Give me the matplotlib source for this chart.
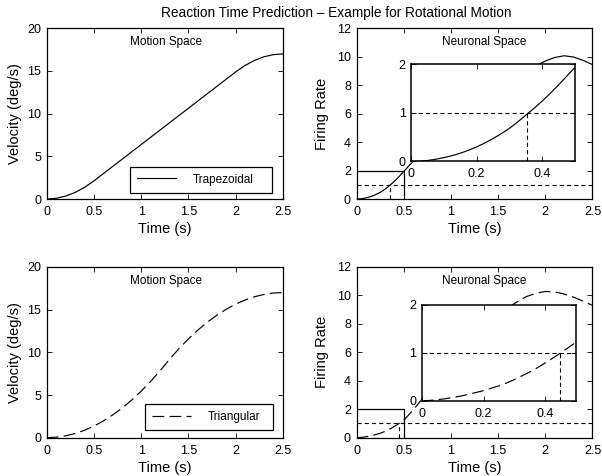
import matplotlib
matplotlib.use("Agg")
import matplotlib.pyplot as plt

plt.rcParams['font.family'] = ['Liberation Sans', 'DejaVu Sans']
plt.rcParams['lines.scale_dashes'] = False

# ---------------- data ----------------
t_motion = [0.0, 0.1, 0.2, 0.3, 0.4, 0.5, 0.6, 0.7, 0.8, 0.9, 1.0, 1.1, 1.2, 1.3,
            1.4, 1.5, 1.6, 1.7, 1.8, 1.9, 2.0, 2.1, 2.2, 2.3, 2.4, 2.5]
vel_trap = [0.0, 0.085, 0.34, 0.765, 1.36, 2.125, 2.975, 3.825, 4.675, 5.525, 6.375,
            7.225, 8.075, 8.925, 9.775, 10.625, 11.475, 12.325, 13.175, 14.025,
            14.875, 15.64, 16.235, 16.66, 16.915, 17.0]
vel_tri = [0.0, 0.054, 0.218, 0.49, 0.87, 1.36, 1.96, 2.67, 3.48, 4.41, 5.44, 6.58,
           7.83, 9.17, 10.42, 11.56, 12.59, 13.52, 14.33, 15.04, 15.64, 16.13,
           16.51, 16.78, 16.95, 17.0]

t_neuro = [0.0, 0.025, 0.05, 0.075, 0.1, 0.125, 0.15, 0.175, 0.2, 0.225, 0.25,
           0.275, 0.3, 0.325, 0.35, 0.375, 0.4, 0.425, 0.45, 0.475, 0.5, 0.55, 0.6,
           0.65, 0.7, 0.8, 0.9, 1.0, 1.1, 1.2, 1.3, 1.4, 1.5, 1.6, 1.7, 1.8, 1.9,
           2.0, 2.1, 2.2, 2.3, 2.4, 2.5]
rate_trap = [0.0, 0.005, 0.02, 0.045, 0.08, 0.12, 0.17, 0.23, 0.30, 0.38, 0.47,
             0.57, 0.68, 0.81, 0.95, 1.09, 1.24, 1.40, 1.57, 1.75, 1.93, 2.3,
             2.65, 3.0, 3.35, 4.0, 4.65, 5.25, 5.8, 6.35, 6.85, 7.3, 7.75, 8.15,
             8.55, 8.95, 9.35, 9.7, 9.95, 10.07, 9.98, 9.75, 9.45]
rate_tri = [0.0, 0.005, 0.02, 0.04, 0.065, 0.095, 0.13, 0.17, 0.21, 0.26, 0.31,
            0.37, 0.44, 0.52, 0.6, 0.69, 0.79, 0.89, 1.0, 1.11, 1.22, 1.58,
            1.95, 2.35, 2.75, 3.5, 4.25, 5.0, 5.75, 6.45, 7.15, 7.8, 8.55, 9.1,
            9.55, 9.92, 10.15, 10.28, 10.25, 10.1, 9.88, 9.6, 9.3]

threshold = 1.0
rt_trap = 0.355
rt_tri = 0.447
zoom_t = 0.5
zoom_r = 2.0

labels = ['Trapezoidal', 'Triangular']
title = 'Reaction Time Prediction \u2013 Example for Rotational Motion'

# ---------------- style ----------------
TICK_FS = 9
LABEL_FS = 10.5
ANN_FS = 8.5
LW = 0.85
DASH_LONG = (8.5, 3.8)
DASH_SHORT = (3.0, 2.2)


def style(ax):
    ax.tick_params(direction='in', top=True, right=True, length=3.5, width=0.6,
                   labelsize=TICK_FS)
    ax.tick_params(axis='x', pad=5)
    ax.tick_params(axis='y', pad=4)
    for s in ax.spines.values():
        s.set_linewidth(0.9)


fig = plt.figure(figsize=(6.02, 4.76), dpi=100)

W = 0.392
H = 0.3586
pos = {
    (0, 0): [0.0776, 0.5819, W, H],
    (0, 1): [0.5922, 0.5819, W, H],
    (1, 0): [0.0776, 0.0805, W, H],
    (1, 1): [0.5922, 0.0805, W, H],
}

series = [
    (vel_trap, rate_trap, rt_trap, None, (0.353, 0.037, 0.600, 0.1),
     [0.58, 2.64, 1.73, 6.82]),
    (vel_tri, rate_tri, rt_tri, DASH_LONG, (0.4165, 0.045, 0.542, 0.1),
     [0.69, 2.60, 1.64, 6.76]),
]

for row, (vel, rate, rt, dash, leg_box, inset_rect) in enumerate(series):
    # motion space
    ax = fig.add_axes(pos[(row, 0)])
    ln, = ax.plot(t_motion, vel, color='black', lw=LW, label=labels[row])
    if dash:
        ln.set_dashes(dash)
    ax.set_xlim(0, 2.5)
    ax.set_ylim(0, 20)
    ax.set_xticks([0, 0.5, 1, 1.5, 2, 2.5])
    ax.set_xticklabels(['0', '0.5', '1', '1.5', '2', '2.5'])
    ax.set_yticks([0, 5, 10, 15, 20])
    ax.set_xlabel('Time (s)', fontsize=LABEL_FS, labelpad=3)
    ax.set_ylabel('Velocity (deg/s)', fontsize=LABEL_FS, labelpad=4)
    ax.text(0.504, 0.92, 'Motion Space', transform=ax.transAxes, ha='center',
            va='center', fontsize=ANN_FS)
    style(ax)
    leg = ax.legend(loc='lower left', bbox_to_anchor=leg_box, mode='expand',
                    borderaxespad=0, fontsize=ANN_FS, frameon=True, fancybox=False,
                    framealpha=1, edgecolor='black', handlelength=3.3,
                    handletextpad=1.4, borderpad=0.6)
    leg.get_frame().set_linewidth(0.9)

    # neuronal space
    ax2 = fig.add_axes(pos[(row, 1)])
    ln2, = ax2.plot(t_neuro, rate, color='black', lw=LW)
    if dash:
        ln2.set_dashes(dash)
    ax2.axhline(threshold, color='black', lw=0.8, dashes=DASH_SHORT)
    ax2.plot([rt, rt], [0, threshold], color='black', lw=0.8, dashes=DASH_SHORT)
    ax2.plot([0, zoom_t, zoom_t], [zoom_r, zoom_r, 0], color='black', lw=0.9)
    ax2.set_xlim(0, 2.5)
    ax2.set_ylim(0, 12)
    ax2.set_xticks([0, 0.5, 1, 1.5, 2, 2.5])
    ax2.set_xticklabels(['0', '0.5', '1', '1.5', '2', '2.5'])
    ax2.set_yticks([0, 2, 4, 6, 8, 10, 12])
    ax2.set_xlabel('Time (s)', fontsize=LABEL_FS, labelpad=3)
    ax2.set_ylabel('Firing Rate', fontsize=LABEL_FS, labelpad=6)
    ax2.text(0.541, 0.92, 'Neuronal Space', transform=ax2.transAxes, ha='center',
             va='center', fontsize=ANN_FS)
    style(ax2)

    ins = ax2.inset_axes(inset_rect, transform=ax2.transData)
    ins.set_facecolor('white')
    ln3, = ins.plot(t_neuro, rate, color='black', lw=LW)
    if dash:
        ln3.set_dashes(dash)
    ins.axhline(threshold, color='black', lw=0.8, dashes=DASH_SHORT)
    ins.plot([rt, rt], [0, threshold], color='black', lw=0.8, dashes=DASH_SHORT)
    ins.set_xlim(0, zoom_t)
    ins.set_ylim(0, zoom_r)
    ins.set_xticks([0, 0.2, 0.4])
    ins.set_xticklabels(['0', '0.2', '0.4'])
    ins.set_yticks([0, 1, 2])
    style(ins)
    for s in ins.spines.values():
        s.set_linewidth(1.1)

fig.suptitle(title, x=0.558, y=0.988, fontsize=9.8, va='top')

fig.savefig('out.png', dpi=100)
